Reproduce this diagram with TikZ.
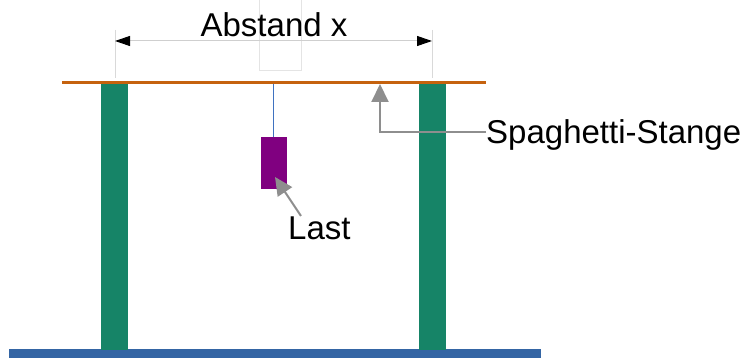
\documentclass[tikz,border=0pt]{standalone}
\usepackage{fontspec}
\setmainfont{Liberation Sans}
\usetikzlibrary{arrows.meta}

\definecolor{barorange}{HTML}{C5620E}
\definecolor{pillargreen}{HTML}{168467}
\definecolor{baseblue}{HTML}{3465A4}
\definecolor{loadpurple}{HTML}{800080}
\definecolor{stringblue}{HTML}{3F72C0}
\definecolor{pointergray}{HTML}{8E8E8E}
\definecolor{guidegray}{HTML}{D9D9D9}
\definecolor{dimgray}{HTML}{CFCFCF}

\begin{document}
\begin{tikzpicture}[x=1pt,y=-1pt,
  labeltext/.style={font=\fontsize{33}{40}\selectfont, inner sep=0pt, text=black},
  pointer/.style={draw=pointergray, line width=2pt,
    -{Triangle[length=18pt,width=17pt,fill=pointergray]}},
  dimline/.style={draw=dimgray, line width=1pt,
    {Triangle[length=15pt,width=10pt,black]}-{Triangle[length=15pt,width=10pt,black]}},
  guide/.style={draw=guidegray, line width=0.8pt},
  pillar/.style={fill=pillargreen, draw=none, minimum width=27pt, minimum height=266pt, inner sep=0pt},
]
\useasboundingbox (0,0) rectangle (748,358);

% faint frame above the hanging point
\draw[guidegray!70, line width=0.6pt] (259,-1) rectangle (301,70);

% base plate
\node[fill=baseblue, draw=none, inner sep=0pt, minimum width=532pt, minimum height=9.5pt] (base) at (275,353.5) {};

% the two supports
\node[pillar] (leftpillar) at (114.5,217) {};
\node[pillar] (rightpillar) at (432.5,217) {};

% spaghetti rod resting on the supports
\coordinate (rodleft) at (62,82.5);
\coordinate (rodright) at (486,82.5);
\draw[barorange, line width=3pt] (rodleft) -- (rodright);

% string and hanging load
\coordinate (hook) at (273.7,84);
\node[fill=loadpurple, draw=none, inner sep=0pt, minimum width=26pt, minimum height=52.5pt] (load) at (273.7,163) {};
\draw[stringblue, line width=1.3pt] (hook) -- (load.north);

% extension lines and distance arrow
\coordinate (extleft) at (115,30);
\coordinate (extleftend) at (115,78);
\coordinate (extright) at (432,30);
\coordinate (extrightend) at (432,78);
\draw[guide] (extleft) -- (extleftend);
\draw[guide] (extright) -- (extrightend);
\coordinate (dimleft) at (115,41);
\coordinate (dimright) at (432,41);
\draw[dimline] (dimleft) -- (dimright);
\node[labeltext, anchor=base] (abstand) at (274,37) {Abstand x};

% labels with pointers
\node[labeltext, anchor=base west] (stange) at (486,144) {Spaghetti-Stange};
\coordinate (stangecorner) at (380,132);
\coordinate (stangetip) at (380,84);
\draw[pointer] (stange.west |- stangecorner) -- (stangecorner) -- (stangetip);

\node[labeltext, anchor=base west] (last) at (288,240) {Last};
\coordinate (laststart) at (301,216);
\coordinate (lasttip) at (275,177);
\draw[pointer] (laststart) -- (lasttip);
\end{tikzpicture}
\end{document}
